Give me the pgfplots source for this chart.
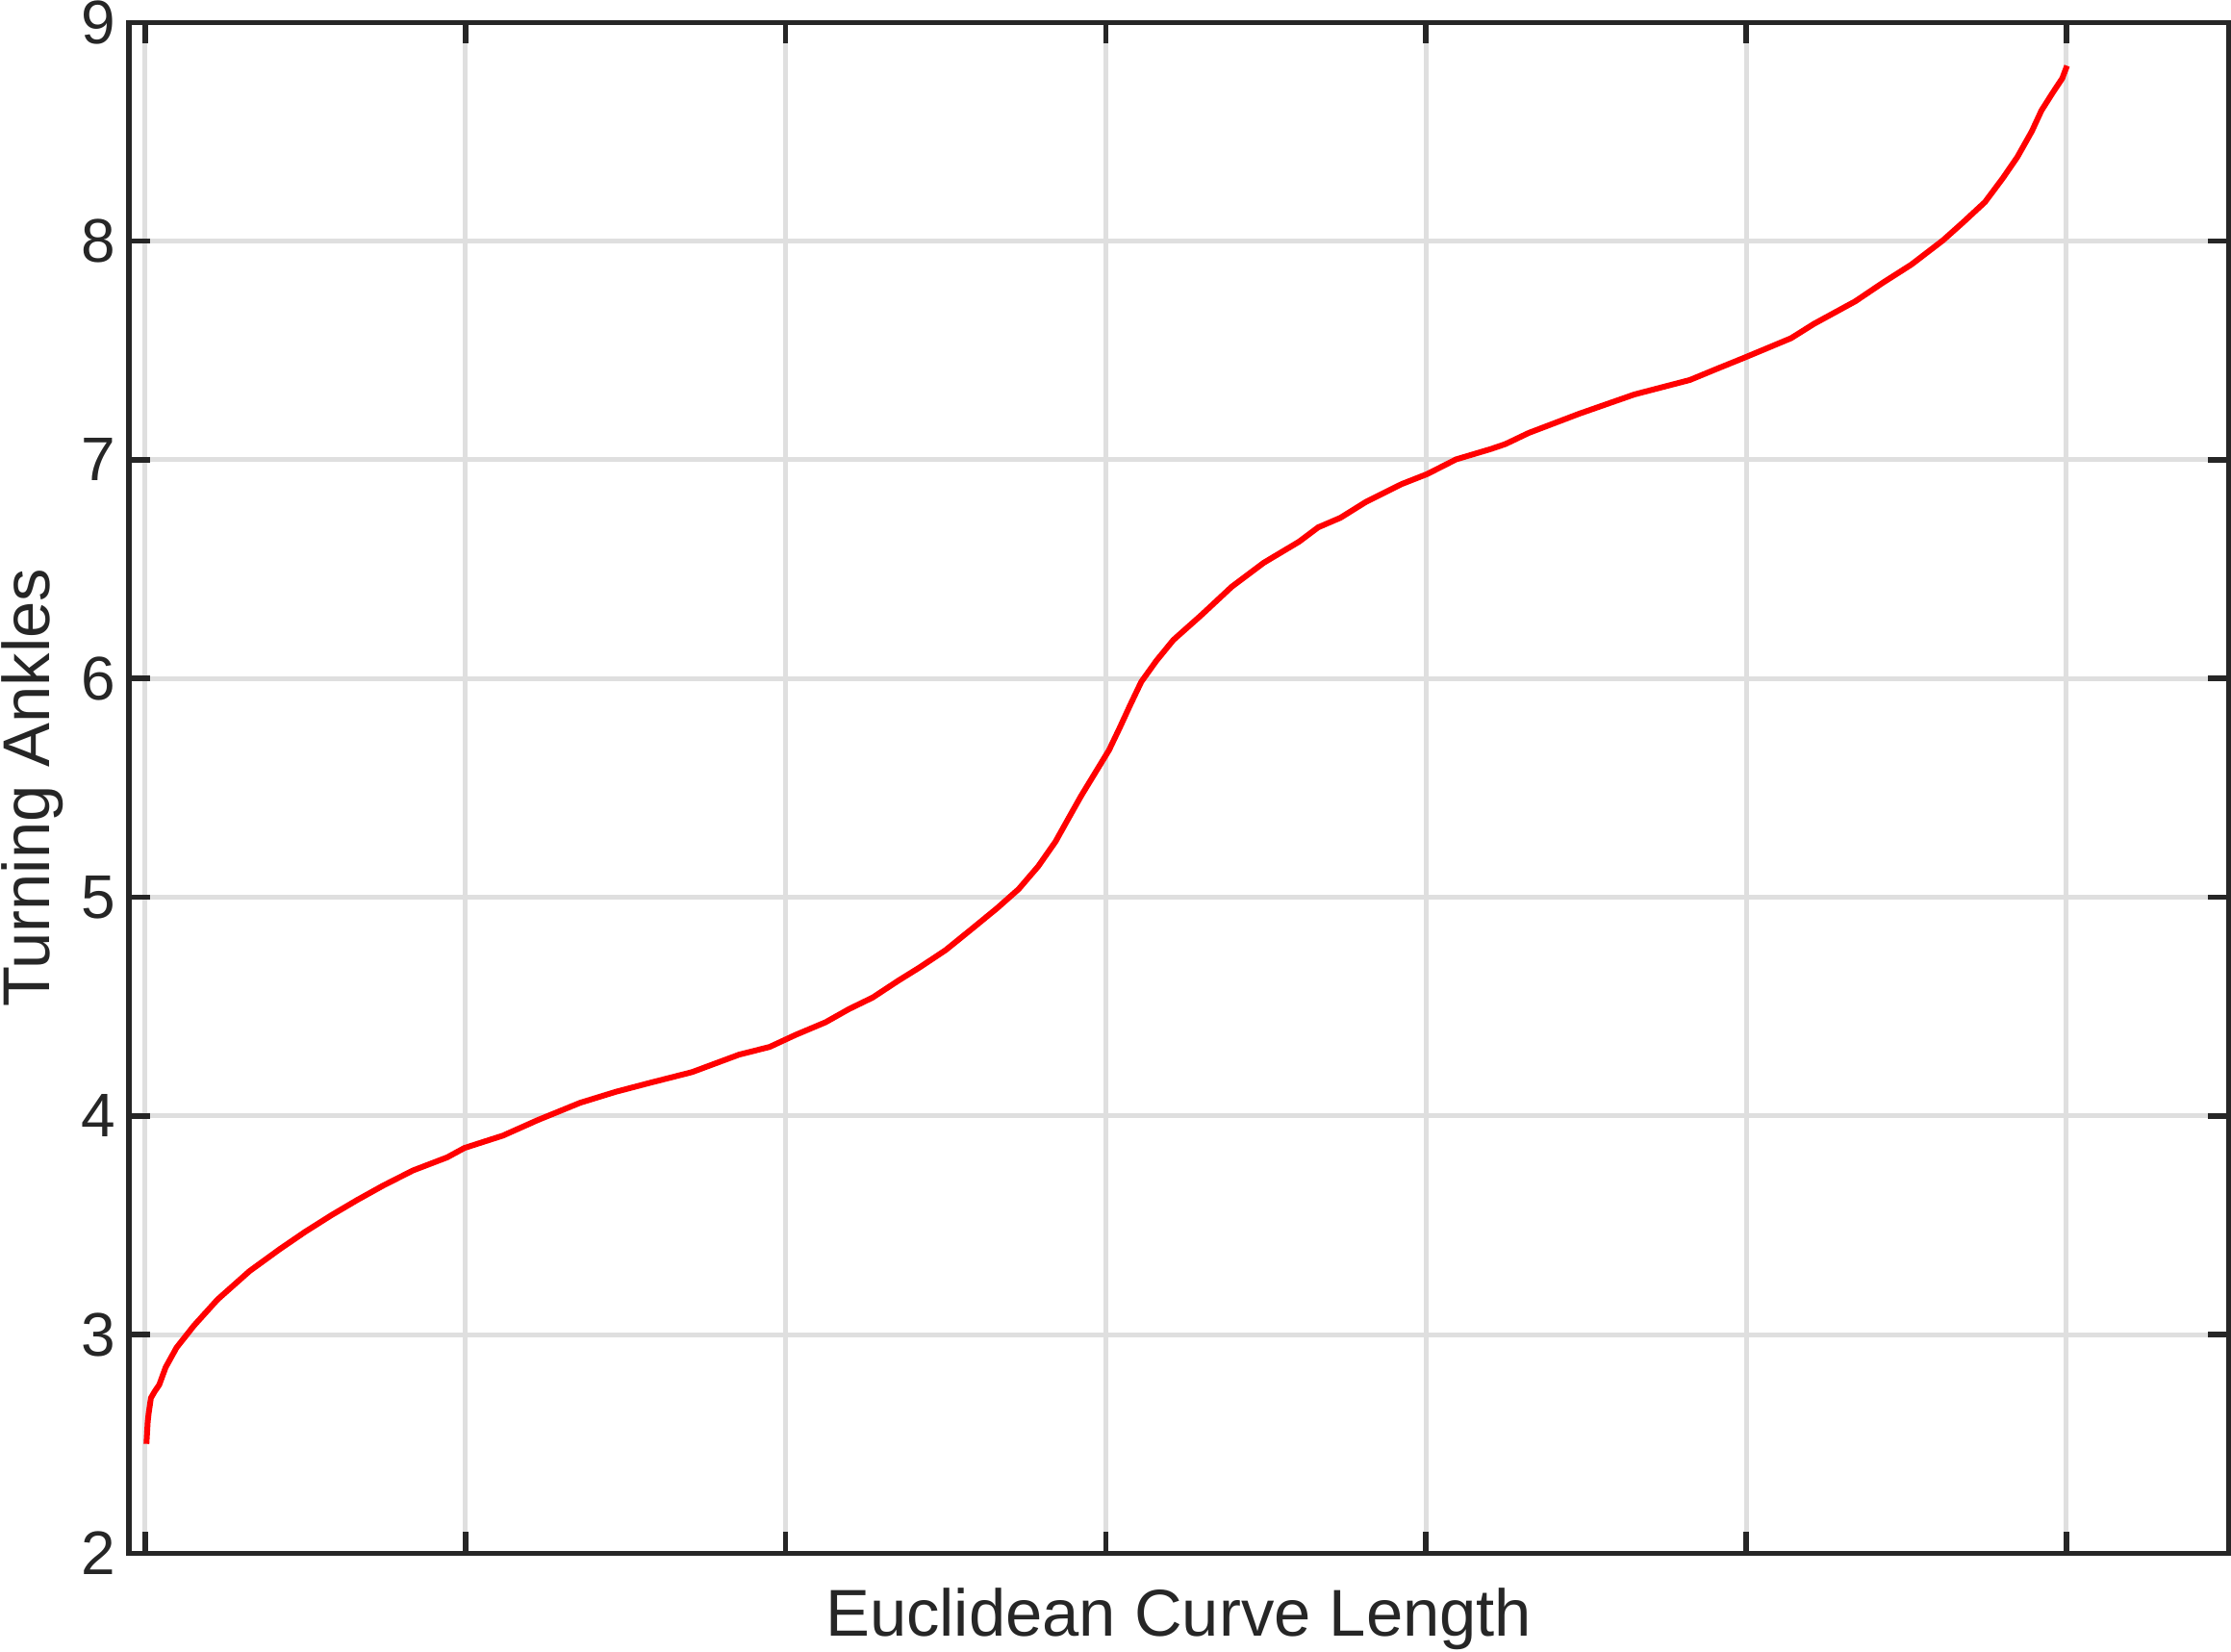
\documentclass[border=0pt]{standalone}
\usepackage{fontspec}
\setmainfont{Liberation Sans}
\usepackage{pgfplots}
\pgfplotsset{compat=1.18}
\definecolor{axcol}{HTML}{262626}
\definecolor{gridcol}{HTML}{DFDFDF}
\begin{document}
\begin{tikzpicture}
\begin{axis}[
  scale only axis,
  width=545.75pt, height=397.8pt,
  xmin=-0.0508, xmax=6.507,
  ymin=2, ymax=9,
  xtick={0,1,2,3,4,5,6},
  xticklabels={},
  ytick={2,3,4,5,6,7,8,9},
  /pgf/number format/assume math mode=true,
  tick align=inside,
  xtick pos=both, ytick pos=both,
  major tick length=5.5pt,
  every tick/.style={color=axcol, line width=1.4pt},
  axis line style={color=axcol, line width=1.4pt},
  grid=major,
  major grid style={color=gridcol, line width=1.25pt},
  tick label style={font=\fontsize{16}{19}\selectfont, text=axcol},
  xlabel={Euclidean Curve Length},
  ylabel={Turning Ankles},
  every axis x label/.style={at={(axis description cs:0.5,-0.0543)}, anchor=base, font=\fontsize{17.2}{20}\selectfont, text=axcol},
  every axis y label/.style={at={(axis description cs:-0.0378,0.5)}, rotate=90, anchor=base, font=\fontsize{17.2}{20}\selectfont, text=axcol},
]
\addplot[color=red, line width=1.5pt, line join=round] coordinates {
(0.004,2.50) (0.008,2.60) (0.011,2.64) (0.018,2.71) (0.030,2.74) (0.044,2.77)
(0.064,2.85) (0.098,2.94) (0.152,3.04) (0.226,3.16) (0.326,3.29) (0.42,3.39)
(0.50,3.47) (0.581,3.545) (0.662,3.615) (0.742,3.68) (0.836,3.75) (0.943,3.81)
(0.997,3.853) (1.118,3.91) (1.225,3.98) (1.359,4.06) (1.47,4.11) (1.574,4.15)
(1.708,4.20) (1.855,4.28) (1.95,4.315) (2.031,4.37) (2.125,4.428) (2.199,4.489)
(2.272,4.541) (2.353,4.619) (2.42,4.68) (2.50,4.758) (2.581,4.854) (2.661,4.95)
(2.728,5.037) (2.789,5.141) (2.843,5.254) (2.883,5.359) (2.923,5.463) (2.97,5.576)
(3.01,5.672) (3.044,5.776) (3.077,5.881) (3.111,5.985) (3.158,6.081) (3.211,6.176)
(3.30,6.292) (3.393,6.419) (3.493,6.529) (3.603,6.625) (3.663,6.691) (3.733,6.735)
(3.813,6.808) (3.924,6.889) (4.004,6.935) (4.094,7.002) (4.204,7.05) (4.248,7.072)
(4.321,7.123) (4.479,7.211) (4.651,7.299) (4.824,7.365) (4.91,7.417) (4.996,7.468)
(5.14,7.556) (5.212,7.622) (5.341,7.725) (5.427,7.81) (5.516,7.893) (5.614,8.003)
(5.676,8.084) (5.746,8.179) (5.802,8.289) (5.847,8.385) (5.892,8.502) (5.922,8.597)
(5.957,8.678) (5.987,8.744) (6.002,8.802)
};
\end{axis}
\pgfresetboundingbox
\path[use as bounding box] ([xshift=-33.5pt,yshift=-25.6pt]current axis.south west) rectangle ([xshift=0.6pt,yshift=5.85pt]current axis.north east);
\end{tikzpicture}
\end{document}
